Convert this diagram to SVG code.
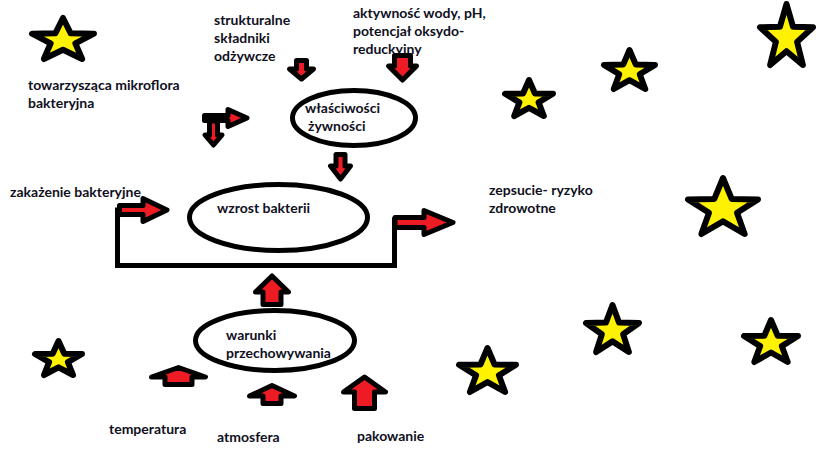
<svg xmlns="http://www.w3.org/2000/svg" width="819" height="460" viewBox="0 0 819 460">
<style>
.bg{fill:#ffffff}
.t{font-family:Lato,"Open Sans","Liberation Sans",sans-serif;font-weight:bold;font-size:14px;fill:#10101e}
.node{fill:#ffffff;stroke:#000000;stroke-width:5}
.arr{fill:#ED1C24;stroke:#000000;stroke-width:5;stroke-linejoin:round}
.line{fill:none;stroke:#000000;stroke-width:5;stroke-linecap:square}
.star{fill:#FFF200;stroke:#000000;stroke-width:6;stroke-linejoin:round;vector-effect:non-scaling-stroke}
</style>
<rect class="bg" x="0" y="0" width="819" height="460"/>

<g id="stars">
<polygon class="star" transform="translate(32,18) scale(62,41)" points="0.5,0 0.624,0.374 1,0.382 0.7,0.621 0.809,1 0.5,0.774 0.191,1 0.3,0.621 0,0.382 0.376,0.374"/>
<polygon class="star" transform="translate(505,80) scale(48,36)" points="0.5,0 0.624,0.374 1,0.382 0.7,0.621 0.809,1 0.5,0.774 0.191,1 0.3,0.621 0,0.382 0.376,0.374"/>
<polygon class="star" transform="translate(604,50) scale(51,39)" points="0.5,0 0.624,0.374 1,0.382 0.7,0.621 0.809,1 0.5,0.774 0.191,1 0.3,0.621 0,0.382 0.376,0.374"/>
<polygon class="star" transform="translate(760,4) scale(53,61)" points="0.5,0 0.624,0.374 1,0.382 0.7,0.621 0.809,1 0.5,0.774 0.191,1 0.3,0.621 0,0.382 0.376,0.374"/>
<polygon class="star" transform="translate(688,178) scale(70,56)" points="0.5,0 0.624,0.374 1,0.382 0.7,0.621 0.809,1 0.5,0.774 0.191,1 0.3,0.621 0,0.382 0.376,0.374"/>
<polygon class="star" transform="translate(586,305) scale(53,47)" points="0.5,0 0.624,0.374 1,0.382 0.7,0.621 0.809,1 0.5,0.774 0.191,1 0.3,0.621 0,0.382 0.376,0.374"/>
<polygon class="star" transform="translate(744,320) scale(54,42)" points="0.5,0 0.624,0.374 1,0.382 0.7,0.621 0.809,1 0.5,0.774 0.191,1 0.3,0.621 0,0.382 0.376,0.374"/>
<polygon class="star" transform="translate(35,341) scale(47,34)" points="0.5,0 0.624,0.374 1,0.382 0.7,0.621 0.809,1 0.5,0.774 0.191,1 0.3,0.621 0,0.382 0.376,0.374"/>
<polygon class="star" transform="translate(459,348) scale(57,44)" points="0.5,0 0.624,0.374 1,0.382 0.7,0.621 0.809,1 0.5,0.774 0.191,1 0.3,0.621 0,0.382 0.376,0.374"/>
</g>

<g id="n-wlasciwosci">
<ellipse class="node" cx="354" cy="118" rx="61.5" ry="27.5"/>
<text class="t" x="305" y="113">właściwości</text>
<text class="t" x="308" y="131">żywności</text>
</g>
<g id="n-wzrost">
<ellipse class="node" cx="278.5" cy="217.5" rx="89" ry="33"/>
<text class="t" x="217" y="213">wzrost bakterii</text>
</g>
<g id="n-warunki">
<ellipse class="node" cx="275" cy="340.5" rx="79.5" ry="30"/>
<text class="t" x="226" y="340">warunki</text>
<text class="t" x="226" y="358">przechowywania</text>
</g>
<g id="n-strukturalne">
<text class="t" x="214" y="25">strukturalne</text>
<text class="t" x="214" y="43">składniki</text>
<text class="t" x="214" y="61">odżywcze</text>
</g>
<g id="n-aktywnosc">
<text class="t" x="353" y="18">aktywność wody, pH,</text>
<text class="t" x="353" y="36">potencjał oksydo-</text>
<text class="t" x="353" y="54">reduckyjny</text>
</g>
<g id="n-mikroflora">
<text class="t" x="28" y="90">towarzysząca mikroflora</text>
<text class="t" x="28" y="108">bakteryjna</text>
</g>
<g id="n-zakazenie">
<text class="t" x="10" y="197">zakażenie bakteryjne</text>
</g>
<g id="n-zepsucie">
<text class="t" x="489" y="195">zepsucie- ryzyko</text>
<text class="t" x="489" y="213">zdrowotne</text>
</g>
<g id="n-temperatura">
<text class="t" x="109" y="434">temperatura</text>
</g>
<g id="n-atmosfera">
<text class="t" x="217" y="442">atmosfera</text>
</g>
<g id="n-pakowanie">
<text class="t" x="357" y="441">pakowanie</text>
</g>

<g id="connectors">
<polyline class="line" points="117.5,210 117.5,265.5 394.5,265.5 394.5,220"/>
<polygon class="arr" points="119.5,205.5 143,205.5 143,198.5 167,210 143,221.5 143,214.5 119.5,214.5"/>
<polygon class="arr" points="395,217.5 424,217.5 424,210.5 453,222.5 424,234.5 424,227.5 395,227.5"/>
<polygon class="arr" points="272,276 288.5,292 281,292 281,304.5 263,304.5 263,292 255.5,292"/>
<polygon class="arr" points="296.5,60.5 306.5,60.5 306.5,69 313.5,69 301.5,79 289.5,69 296.5,69"/>
<polygon class="arr" points="394.5,55.5 410.5,55.5 410.5,66 416.5,66 402.5,80 388.5,66 394.5,66"/>
<polygon class="arr" points="336,154.5 345,154.5 345,166 350.5,166 340.5,179 330.5,166 336,166"/>
<polygon class="arr" points="209.5,121 217.5,121 217.5,135 222,135 213.5,145 205,135 209.5,135"/>
<polygon class="arr" points="204.5,115.5 228,115.5 228,109.5 247,118 228,126.5 228,120.5 204.5,120.5"/>
<polygon class="arr" points="178.5,367.5 205.5,377 192,377 192,384.5 165,384.5 165,377 151.5,377"/>
<polygon class="arr" points="272,385.5 294.5,396 281,396 281,403.5 263,403.5 263,396 249.5,396"/>
<polygon class="arr" points="364.5,377 385.5,392 374.5,392 374.5,408.5 354.5,408.5 354.5,392 343.5,392"/>
</g>
</svg>
